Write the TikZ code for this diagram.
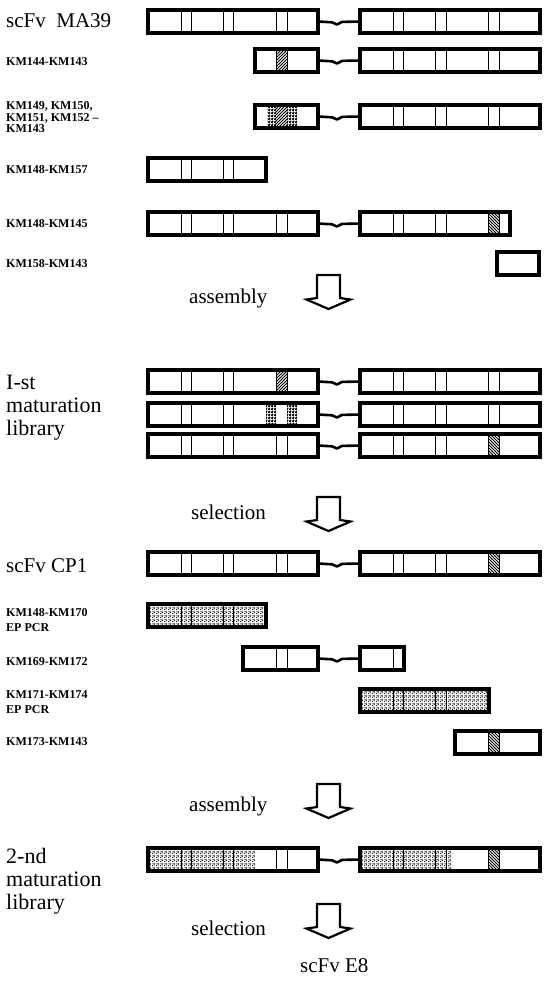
\documentclass[tikz,border=0pt]{standalone}
\usepackage{fontspec}
\setmainfont{Liberation Serif}
\usetikzlibrary{patterns}
\pgfdeclarepatternformonly{stip}{\pgfqpoint{0pt}{0pt}}{\pgfqpoint{4pt}{4pt}}{\pgfqpoint{4pt}{4pt}}{%
  \pgfpathcircle{\pgfqpoint{0.8pt}{0.8pt}}{0.75pt}%
  \pgfpathcircle{\pgfqpoint{2.8pt}{1.5pt}}{0.75pt}%
  \pgfpathcircle{\pgfqpoint{1.3pt}{3.1pt}}{0.7pt}%
  \pgfpathcircle{\pgfqpoint{3.3pt}{3.4pt}}{0.6pt}%
  \pgfusepath{fill}}
\pgfdeclarepatternformonly{checks}{\pgfqpoint{0pt}{0pt}}{\pgfqpoint{2.6pt}{2.6pt}}{\pgfqpoint{2.6pt}{2.6pt}}{%
  \pgfpathrectangle{\pgfqpoint{0pt}{0pt}}{\pgfqpoint{1.7pt}{1.7pt}}%
  \pgfpathrectangle{\pgfqpoint{1.3pt}{1.3pt}}{\pgfqpoint{1.3pt}{1.3pt}}%
  \pgfpathrectangle{\pgfqpoint{1.3pt}{0pt}}{\pgfqpoint{0.6pt}{0.6pt}}%
  \pgfusepath{fill}}
\pgfdeclarepatternformonly{nelines}{\pgfqpoint{-1pt}{-1pt}}{\pgfqpoint{4pt}{4pt}}{\pgfqpoint{3pt}{3pt}}{%
  \pgfsetlinewidth{0.8pt}\pgfpathmoveto{\pgfqpoint{0pt}{0pt}}\pgfpathlineto{\pgfqpoint{3.1pt}{3.1pt}}\pgfusepath{stroke}}
\pgfdeclarepatternformonly{nwlines}{\pgfqpoint{-1pt}{-1pt}}{\pgfqpoint{4pt}{4pt}}{\pgfqpoint{3pt}{3pt}}{%
  \pgfsetlinewidth{0.8pt}\pgfpathmoveto{\pgfqpoint{0pt}{3pt}}\pgfpathlineto{\pgfqpoint{3.1pt}{-0.1pt}}\pgfusepath{stroke}}
\tikzset{
  segbox/.style={draw, line width=3.4pt, inner sep=0pt, outer sep=0pt, minimum height=23pt, anchor=north west},
  divline/.style={line width=1pt},
  linker/.style={line width=2.6pt, line cap=round, line join=round},
  bigl/.style={font=\fontsize{21}{23}\selectfont, anchor=west, inner sep=0pt, align=left},
  biglib/.style={font=\fontsize{22}{23}\selectfont, anchor=west, inner sep=0pt, align=left},
  smalll/.style={font=\bfseries\fontsize{12}{11.5}\selectfont, anchor=west, inner sep=0pt, align=left},
  blockarrow/.style={draw, line width=2.2pt, line join=miter, fill=white},
}
\newcommand\seg[4]{\node[segbox, minimum width=#3-#2] (#1) at (#2,#4) {};}
\newcommand\dv[2]{\foreach \xx in {#2} {\draw[divline] (\xx,#1) -- (\xx,#1+23);}}
\newcommand\pat[4]{\fill[pattern=#1] (#2,#4) rectangle (#3,#4+23);}
\newcommand\fullL[2]{\seg{#1}{148}{318}{#2}\dv{#2}{181,191.5,223,233.5,276,287}}
\newcommand\fullR[2]{\seg{#1}{360}{540}{#2}\dv{#2}{393,403,435,446,488,499}}
\newcommand\link[2]{\draw[linker] (#1.east) -- ++(14,0.8) to[out=0,in=180] ++(5,2.2) to[out=0,in=180] ++(5,-2.6) -- (#2.west);}
\newcommand\barrow[1]{\draw[blockarrow] (317,#1) -- (340,#1) -- (340,#1+23) -- (350.5,#1+24.5) -- (328.5,#1+34) -- (306.5,#1+24.5) -- (317,#1+23) -- cycle;}
\begin{document}
\begin{tikzpicture}[x=1pt,y=-1pt]
\useasboundingbox (0,0) rectangle (549,994);
\fill[white] (0,0) rectangle (549,994);
% scFv MA39
\fullL{m1}{10}\fullR{m2}{10}\link{m1}{m2}
% KM144-KM143
\pat{nelines}{276}{287}{49}
\seg{a1}{255}{318}{49}\dv{49}{276,287}
\fullR{a2}{49}\link{a1}{a2}
% KM149...
\pat{checks}{267}{276}{105}\pat{nelines}{276}{287}{105}\pat{checks}{287}{297}{105}
\seg{b1}{255}{318}{105}\fullR{b2}{105}\link{b1}{b2}
% KM148-KM157
\seg{c1}{148}{266}{158}\dv{158}{181,191.5,223,233.5}
% KM148-KM145
\fullL{d1}{212}\pat{nwlines}{488}{499}{212}
\seg{d2}{360}{510}{212}\dv{212}{393,403,435,446,488,499}\link{d1}{d2}
% KM158-KM143
\seg{e1}{497}{539}{252}
\barrow{275}
% I-st maturation library
\pat{nelines}{276}{287}{370}\fullL{f1}{370}\fullR{f2}{370}\link{f1}{f2}
\pat{checks}{266}{276}{403}\pat{checks}{287}{297}{403}
\seg{g1}{148}{318}{403}\dv{403}{181,191.5,223,233.5}\fullR{g2}{403}\link{g1}{g2}
\pat{nwlines}{488}{499}{434}\fullL{h1}{434}\fullR{h2}{434}\link{h1}{h2}
\barrow{497}
% scFv CP1
\pat{nwlines}{488}{499}{552}\fullL{i1}{552}\fullR{i2}{552}\link{i1}{i2}
% KM148-KM170
\pat{stip}{148}{266}{604}\seg{j1}{148}{266}{604}\dv{604}{181,191.5,223,233.5}
% KM169-KM172
\seg{k1}{243}{318}{647}\dv{647}{276,287}\seg{k2}{360}{404}{647}\dv{647}{393}\link{k1}{k2}
% KM171-KM174
\pat{stip}{360}{489}{689}\seg{l1}{360}{489}{689}\dv{689}{393,403,435,446}
% KM173-KM143
\pat{nwlines}{488}{499}{731}\seg{n1}{455}{540}{731}\dv{731}{488,499}
\barrow{784}
% 2-nd maturation library
\pat{stip}{148}{255}{848}\pat{stip}{360}{452}{848}\pat{nwlines}{488}{499}{848}
\fullL{p1}{848}\fullR{p2}{848}\link{p1}{p2}
\barrow{904}
% labels
\node[bigl] (t1) at (6,21) {scFv\ \ MA39};
\node[smalll] (t2) at (6,61.5) {KM144-KM143};
\node[smalll] (t3) at (6,117.5) {KM149, KM150,\\KM151, KM152 –\\KM143};
\node[smalll] (t4) at (6,170) {KM148-KM157};
\node[smalll] (t5) at (6,224) {KM148-KM145};
\node[smalll] (t6) at (6,264) {KM158-KM143};
\node[bigl] (t7) at (189,298) {assembly};
\node[biglib] (t8) at (6,408) {I-st\\maturation\\library};
\node[bigl] (t9) at (191,512) {selection};
\node[bigl] (t10) at (6,566) {scFv CP1};
\node[smalll] (t11) at (6,620) {KM148-KM170\\[3pt]EP PCR};
\node[smalll] (t12) at (6,662) {KM169-KM172};
\node[smalll] (t13) at (6,702) {KM171-KM174\\[3pt]EP PCR};
\node[smalll] (t14) at (6,742) {KM173-KM143};
\node[bigl] (t15) at (189,806) {assembly};
\node[biglib] (t16) at (6,881) {2-nd\\maturation\\library};
\node[bigl] (t17) at (191,928) {selection};
\node[bigl] (t18) at (300,966) {scFv E8};
\end{tikzpicture}
\end{document}
